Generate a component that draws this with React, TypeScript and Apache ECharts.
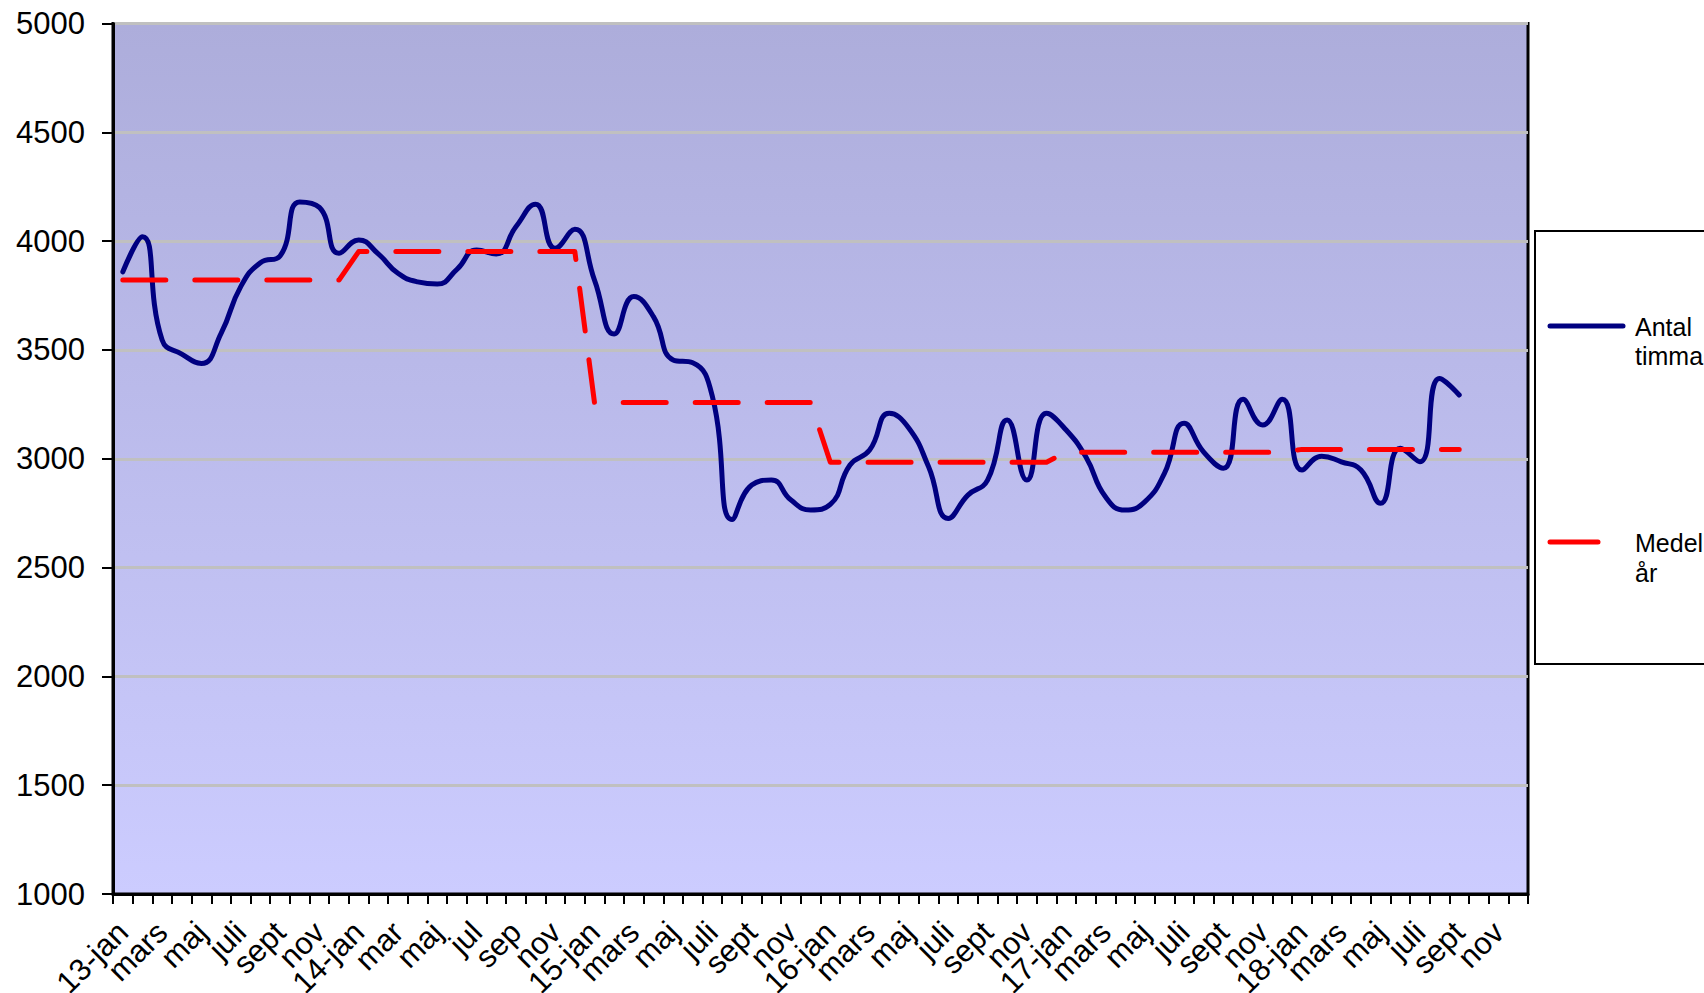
import React, { useEffect, useRef } from "react";
import * as echarts from "echarts";

const categories: string[] = [
  "13-jan", "feb", "mars", "apr", "maj", "juni", "juli", "aug", "sept", "okt", "nov", "dec",
  "14-jan", "feb", "mar", "apr", "maj", "jun", "jul", "aug", "sep", "okt", "nov", "dec",
  "15-jan", "feb", "mars", "apr", "maj", "juni", "juli", "aug", "sept", "okt", "nov", "dec",
  "16-jan", "feb", "mars", "apr", "maj", "juni", "juli", "aug", "sept", "okt", "nov", "dec",
  "17-jan", "feb", "mars", "apr", "maj", "juni", "juli", "aug", "sept", "okt", "nov", "dec",
  "18-jan", "feb", "mars", "apr", "maj", "juni", "juli", "aug", "sept", "okt", "nov", "dec",
];

const hours2013: number[] = [3859, 4020, 3546, 3481, 3438, 3576, 3791, 3901, 3932, 4180, 4155, 3944];
const hours2014: number[] = [4005, 3941, 3852, 3813, 3803, 3870, 3959, 3941, 4066, 4170, 3967, 4054];
const hours2015: number[] = [3821, 3573, 3745, 3653, 3454, 3441, 3285, 2721, 2879, 2902, 2810, 2765];
const hours2016: number[] = [2790, 2971, 3040, 3209, 3140, 2963, 2726, 2833, 2902, 3178, 2902, 3209];
const hours2017: number[] = [3132, 3009, 2825, 2764, 2802, 2933, 3163, 3030, 2956, 3273, 3155, 3273];
const hours2018: number[] = [2948, 3012, 2986, 2948, 2795, 3048, 2986, 3369, 3293];

const yearlyMean: number[] = [3821, 3952, 3258, 2984, 3030, 3043];

const seriesNames: string[] = ["Antal timmar", "Medel per år"];
const legendLabels: string[] = ["Antal\ntimmar", "Medel per\når"];

const FONT = "'Liberation Sans', Arial, sans-serif";

export default function App() {
  const ref = useRef<HTMLDivElement>(null);

  useEffect(() => {
    if (!ref.current) return;
    const chart = echarts.init(ref.current, undefined, { renderer: "svg" });

    const hours = [...hours2013, ...hours2014, ...hours2015, ...hours2016, ...hours2017, ...hours2018];
    const means = hours.map((_, i) => yearlyMean[Math.floor(i / 12)]);

    chart.setOption({
      animation: false,
      backgroundColor: "#ffffff",
      grid: {
        left: 113,
        right: 176,
        top: 23.5,
        bottom: 99,
        show: true,
        backgroundColor: new echarts.graphic.LinearGradient(0, 0, 0, 1, [
          { offset: 0, color: "#ADADDB" },
          { offset: 1, color: "#CCCCFF" },
        ]),
        borderColor: "#000000",
        borderWidth: 3,
        outerBoundsMode: "none",
      },
      xAxis: {
        type: "category",
        data: categories,
        boundaryGap: true,
        axisLine: { show: true, lineStyle: { color: "#000", width: 3 } },
        axisTick: { show: true, interval: 0, length: 10, lineStyle: { color: "#000", width: 2 } },
        axisLabel: {
          interval: 0,
          rotate: 45,
          fontSize: 31,
          color: "#000",
          fontFamily: FONT,
          margin: 33,
          hideOverlap: false,
          formatter: (v: string, i: number) => (i % 2 === 0 ? v : ""),
        },
        splitLine: { show: false },
      },
      yAxis: {
        type: "value",
        min: 1000,
        max: 5000,
        interval: 500,
        axisLine: { show: true, lineStyle: { color: "#000", width: 3 } },
        axisTick: { show: true, length: 11, lineStyle: { color: "#000", width: 2 } },
        axisLabel: {
          fontSize: 31,
          color: "#000",
          fontFamily: FONT,
          margin: 28,
          formatter: (v: number) => String(v),
        },
        splitLine: { show: true, lineStyle: { color: "#C0C0C0", width: 3 } },
      },
      series: [
        {
          name: seriesNames[0],
          type: "line",
          data: hours,
          smooth: 0.5,
          symbol: "none",
          lineStyle: { color: "#000080", width: 5, cap: "round", join: "round" },
          z: 2,
        },
        {
          name: seriesNames[1],
          type: "line",
          data: means,
          smooth: false,
          symbol: "none",
          lineStyle: { color: "#FF0000", width: 5, type: [43, 29], cap: "round", join: "round" },
          z: 3,
        },
      ],
      graphic: [
        {
          type: "rect",
          shape: { x: 1535, y: 231, width: 260, height: 433 },
          style: { fill: "#ffffff", stroke: "#000000", lineWidth: 2 },
          z: 10,
        },
        {
          type: "line",
          shape: { x1: 1550, y1: 326, x2: 1623, y2: 326 },
          style: { stroke: "#000080", lineWidth: 5, lineCap: "round" },
          z: 11,
        },
        {
          type: "line",
          shape: { x1: 1550, y1: 542, x2: 1598, y2: 542 },
          style: { stroke: "#FF0000", lineWidth: 5, lineCap: "round" },
          z: 11,
        },
        {
          type: "text",
          x: 1635,
          y: 312,
          style: {
            text: legendLabels[0],
            fontSize: 25,
            lineHeight: 29,
            fontFamily: FONT,
            fill: "#000",
            verticalAlign: "top",
          },
          z: 11,
        },
        {
          type: "text",
          x: 1635,
          y: 528,
          style: {
            text: legendLabels[1],
            fontSize: 25,
            lineHeight: 30,
            fontFamily: FONT,
            fill: "#000",
            verticalAlign: "top",
          },
          z: 11,
        },
      ],
    });

    return () => chart.dispose();
  }, []);

  return (
    <div
      ref={ref}
      style={{ position: "absolute", left: 0, top: 0, width: 1704, height: 993 }}
    />
  );
}
